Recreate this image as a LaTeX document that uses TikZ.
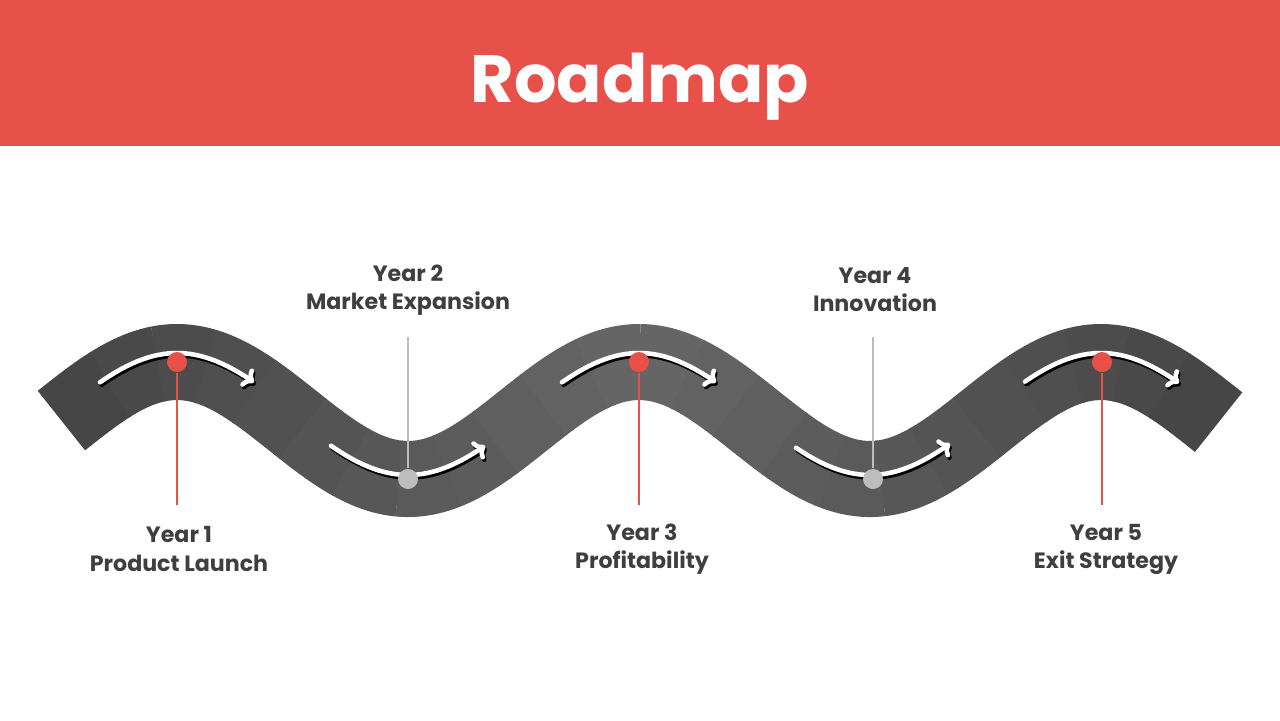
\documentclass[tikz,border=0pt]{standalone}
\usepackage{fontspec}
\setmainfont{Poppins}
\usetikzlibrary{arrows.meta}
\definecolor{roadred}{HTML}{E8504A}
\definecolor{labelgray}{HTML}{3F3F3F}
\definecolor{pingray}{HTML}{BDBDBD}
\newcommand{\wavey}[1]{420.5-58.5*cos((#1-177)*0.779221)}
\tikzset{
  label/.style={font=\bfseries\fontsize{6.3}{8}\selectfont, text=labelgray, align=center},
  redpin/.style={circle, fill=roadred, inner sep=0pt, minimum size=0.2cm},
  graypin/.style={circle, fill=pingray, inner sep=0pt, minimum size=0.2cm},
  roadarrow/.style={line width=1.3pt, -{To[length=3pt,width=6pt]}, line cap=round},
}
\begin{document}
\begin{tikzpicture}[x=0.01cm,y=-0.01cm]
\useasboundingbox (0,0) rectangle (1280,720);
% header
\fill[roadred] (0,0) rectangle (1280,146);
\node[text=white, font=\bfseries\fontsize{19}{22}\selectfont] (title) at (640,87) {Roadmap};
% road
\foreach \i in {0,...,23}{
  \pgfmathsetmacro{\xa}{62+\i*48.1667-0.6}
  \pgfmathsetmacro{\xb}{62+(\i+1)*48.1667+0.6}
  \pgfmathsetmacro{\k}{60+13*abs((\xa+\xb)/2-640)/578}
  \draw[black!\k, line width=0.76cm]
    plot[domain=\xa:\xb, samples=12] (\x,{\wavey{\x}});
}
% arrows
\foreach \c/\s in {177/-9, 408/-4, 639/-9, 873/-4, 1102/-9}{
  \draw[roadarrow, black, shift={(1.5,2.5)}]
    plot[domain=\c-77:\c+77, samples=30] (\x,{\wavey{\x}+\s});
  \draw[roadarrow, white]
    plot[domain=\c-77:\c+77, samples=30] (\x,{\wavey{\x}+\s});
}
% pins
\node[redpin] (p1) at (177,362) {};
\node[graypin] (p2) at (408,479) {};
\node[redpin] (p3) at (639,362) {};
\node[graypin] (p4) at (873,479) {};
\node[redpin] (p5) at (1102,362) {};
\coordinate (e1) at (177,505);
\coordinate (e2) at (408,337);
\coordinate (e3) at (639,505);
\coordinate (e4) at (873,337);
\coordinate (e5) at (1102,505);
\draw[roadred] (p1) -- (e1);
\draw[roadred] (p3) -- (e3);
\draw[roadred] (p5) -- (e5);
\draw[pingray] (p2) -- (e2);
\draw[pingray] (p4) -- (e4);
% labels
\node[label] (l1) at (179,549) {Year 1\\Product Launch};
\node[label] (l2) at (408,290) {Year 2\\Market Expansion};
\node[label] (l3) at (642,549) {Year 3\\Profitability};
\node[label] (l4) at (875,290) {Year 4\\Innovation};
\node[label] (l5) at (1106,549) {Year 5\\Exit Strategy};
\end{tikzpicture}
\end{document}
